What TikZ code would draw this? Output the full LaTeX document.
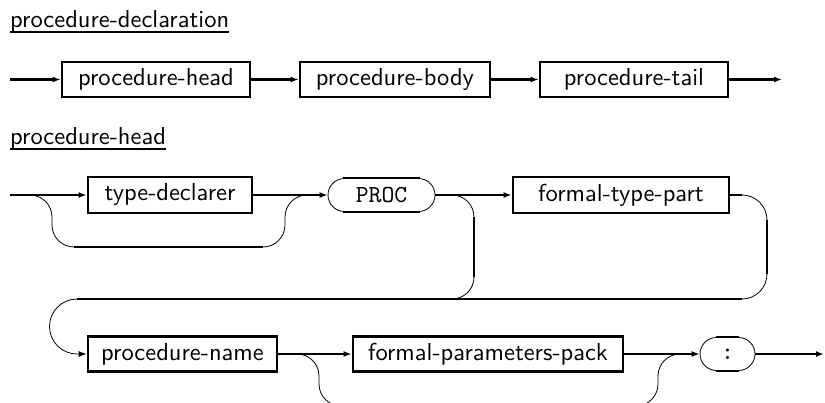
\documentclass[tikz,border=0pt]{standalone}
\usepackage{graphicx}
\usetikzlibrary{arrows.meta,calc}
% sans and typewriter text set at 10pt and magnified, as in the printed diagram
\newcommand{\synsf}[1]{\scalebox{2.45}{\sffamily\fontsize{10}{12}\selectfont #1}}
\newcommand{\syntt}[1]{\scalebox{2.45}{\ttfamily\fontsize{10}{12}\selectfont #1}}
\begin{document}
\begin{tikzpicture}[x=1pt,y=1pt,
  thickline/.style={line width=2.3pt},
  thinline/.style={line width=0.8pt},
  arr/.style={-{Latex[length=8pt,width=6pt]}},
  ntbox/.style={draw, line width=2.8pt, inner sep=0pt, minimum height=35pt},
  tterm/.style={draw, line width=0.8pt, rounded corners=16.5pt, inner sep=0pt,
    minimum height=33pt},
  rulename/.style={inner sep=0pt, anchor=base west},
  underl/.style={line width=2pt}]
\useasboundingbox (0,0) rectangle (825,-402);
\clip (0,0) rectangle (825,-402);

% ---------- procedure-declaration ----------
\node[rulename] (t1) at (10,-27.3) {\synsf{procedure-declaration}};
\draw[underl] (t1.south west) -- (t1.south east);

\node[ntbox, minimum width=188pt] (ph) at (156,-79.5) {\synsf{procedure-head}};
\node[ntbox, minimum width=190pt] (pb) at (395,-79.5) {\synsf{procedure-body}};
\node[ntbox, minimum width=188pt] (pt) at (634,-79.5) {\synsf{procedure-tail}};
\coordinate (in1) at (10,-79.5);
\coordinate (out1) at (782,-79.5);
\draw[thickline,arr] (in1) -- (ph);
\draw[thickline,arr] (ph) -- (pb);
\draw[thickline,arr] (pb) -- (pt);
\draw[thickline,arr] (pt) -- (out1);

% ---------- procedure-head ----------
\node[rulename] (t2) at (10,-144.3) {\synsf{procedure-head}};
\draw[underl] (t2.south west) -- (t2.south east);

% first line
\node[ntbox, minimum width=164pt, minimum height=36pt] (td) at (170,-195) {\synsf{type-declarer}};
\node[tterm, minimum width=107pt] (proc) at (381.5,-195) {\syntt{PROC}};
\node[ntbox, minimum width=216pt, minimum height=36pt] (ftp) at (621,-195) {\synsf{formal-type-part}};
\draw[thickline] ($(proc.north west)+(15,0)$) -- ($(proc.north east)+(-15,0)$);
\draw[thickline] ($(proc.south west)+(15,0)$) -- ($(proc.south east)+(-15,0)$);

\coordinate (in2) at (10,-195);
\draw[thickline,arr] (in2) -- (td);
\draw[thickline,arr] (td) -- (proc);
\draw[thickline,arr] (proc) -- (ftp);

% bypass of type-declarer
\coordinate (b1) at (30,-195);
\coordinate (b2) at (74,-247);
\coordinate (b3) at (263,-247);
\draw[thinline] (b1) arc[start angle=90,end angle=0,radius=22] -- ++(0,-8)
  arc[start angle=180,end angle=270,radius=22];
\draw[thickline] (b2) -- (b3);
\draw[thinline] (b3) arc[start angle=270,end angle=360,radius=22] -- ++(0,8)
  arc[start angle=180,end angle=90,radius=22];

% bypass of formal-type-part
\coordinate (p1) at (452,-195);
\coordinate (p2) at (474,-217);
\coordinate (p3) at (474,-277);
\draw[thinline] (p1) arc[start angle=90,end angle=0,radius=22];
\draw[thickline] (p2) -- (p3);
\draw[thinline] (p3) arc[start angle=0,end angle=-90,radius=22];

% exit of formal-type-part down to the return line
\coordinate (f1) at (742,-195);
\coordinate (f2) at (767,-220);
\coordinate (f3) at (767,-274);
\coordinate (r1) at (742,-299);
\coordinate (r2) at (77,-299);
\draw[thickline] (ftp) -- (f1);
\draw[thinline] (f1) arc[start angle=90,end angle=0,radius=25];
\draw[thickline] (f2) -- (f3);
\draw[thinline] (f3) arc[start angle=0,end angle=-90,radius=25];
\draw[thickline] (r1) -- (r2);

% second line
\node[ntbox, minimum width=189pt] (pn) at (182.5,-354) {\synsf{procedure-name}};
\node[ntbox, minimum width=270pt] (fpp) at (488,-354) {\synsf{formal-parameters-pack}};
\node[tterm, minimum width=55pt] (col) at (727.5,-354) {\syntt{:}};
\draw[thickline] ($(col.north west)+(16,0)$) -- ($(col.north east)+(-16,0)$);
\draw[thickline] ($(col.south west)+(16,0)$) -- ($(col.south east)+(-16,0)$);

\draw[thinline,arr] (r2) arc[start angle=90,end angle=270,radius=27.5] -- (pn);
\coordinate (out3) at (824,-354);
\draw[thickline,arr] (pn) -- (fpp);
\draw[thickline,arr] (fpp) -- (col);
\draw[thickline,arr] (col) -- (out3);

% bypass of formal-parameters-pack
\coordinate (q1) at (297,-354);
\coordinate (q2) at (341,-406);
\coordinate (q3) at (636,-406);
\draw[thinline] (q1) arc[start angle=90,end angle=0,radius=22] -- ++(0,-8)
  arc[start angle=180,end angle=270,radius=22];
\draw[thickline] (q2) -- (q3);
\draw[thinline] (q3) arc[start angle=270,end angle=360,radius=22] -- ++(0,8)
  arc[start angle=180,end angle=90,radius=22];
\end{tikzpicture}
\end{document}
